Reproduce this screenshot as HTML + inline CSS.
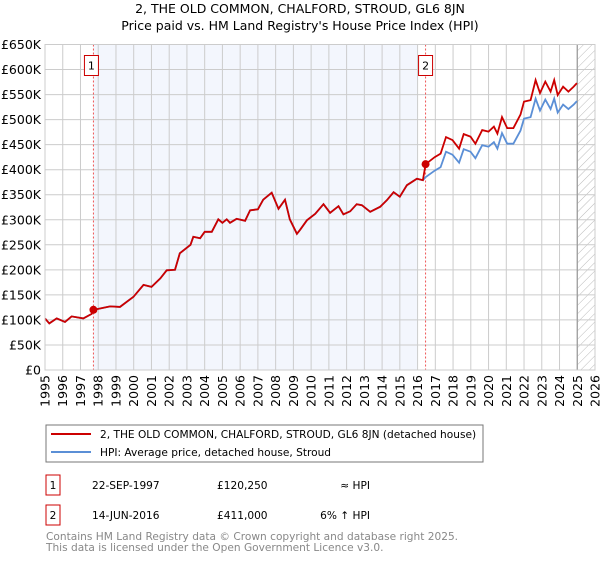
<!DOCTYPE html>
<html><head><meta charset="utf-8"><style>
body{margin:0;background:#fff;font-family:"Liberation Sans","DejaVu Sans",sans-serif;}
</style></head><body>
<svg id="c" width="600" height="560" xmlns="http://www.w3.org/2000/svg" font-family="DejaVu Sans, Liberation Sans, sans-serif">
<text x="300" y="13" text-anchor="middle" font-size="12.5">2, THE OLD COMMON, CHALFORD, STROUD, GL6 8JN</text>
<text x="300" y="30" text-anchor="middle" font-size="12.5">Price paid vs. HM Land Registry's House Price Index (HPI)</text>
<defs><pattern id="hatch" width="6" height="6" patternUnits="userSpaceOnUse" patternTransform="rotate(45)"><line x1="0" y1="0" x2="0" y2="6" stroke="#bbb" stroke-width="1"/></pattern></defs>
<g id="plot"></g>
<g>
<rect x="46" y="425" width="437" height="37" fill="#fff" stroke="#777"/>
<line x1="51" y1="434" x2="91" y2="434" stroke="#cc0000" stroke-width="2"/>
<text x="100" y="438" font-size="10.6">2, THE OLD COMMON, CHALFORD, STROUD, GL6 8JN (detached house)</text>
<line x1="51" y1="452" x2="91" y2="452" stroke="#5b8fd6" stroke-width="2"/>
<text x="100" y="456" font-size="10.6">HPI: Average price, detached house, Stroud</text>
</g>
<g font-size="10.6">
<rect x="46" y="475" width="14" height="20" fill="#fff" stroke="#cc0000"/>
<text x="53" y="489" text-anchor="middle">1</text>
<text x="92" y="489">22-SEP-1997</text>
<text x="217" y="489">£120,250</text>
<text x="370" y="489" text-anchor="end">≈ HPI</text>
<rect x="46" y="505" width="14" height="20" fill="#fff" stroke="#cc0000"/>
<text x="53" y="519" text-anchor="middle">2</text>
<text x="92" y="519">14-JUN-2016</text>
<text x="217" y="519">£411,000</text>
<text x="370" y="519" text-anchor="end">6% ↑ HPI</text>
</g>
<text x="46" y="540" font-size="10.6" fill="#888">Contains HM Land Registry data © Crown copyright and database right 2025.</text>
<text x="46" y="551" font-size="10.6" fill="#888">This data is licensed under the Open Government Licence v3.0.</text>
</svg>
<script>
const years=[1995.0,1995.24,1995.66,1996.13,1996.5,1997.16,1997.63,1997.73,1998.67,1999.23,1999.98,2000.55,2001.0,2001.5,2001.86,2002.33,2002.6,2003.2,2003.36,2003.74,2004.0,2004.4,2004.77,2005.0,2005.24,2005.43,2005.8,2006.28,2006.56,2007.0,2007.3,2007.78,2008.16,2008.53,2008.8,2009.2,2009.38,2009.76,2010.23,2010.7,2011.07,2011.54,2011.82,2012.2,2012.57,2012.86,2013.33,2013.9,2014.27,2014.65,2015.0,2015.4,2015.96,2016.3,2016.45,2016.96,2017.3,2017.6,2017.97,2018.34,2018.6,2018.98,2019.26,2019.64,2020.0,2020.3,2020.5,2020.76,2021.05,2021.4,2021.8,2022.0,2022.37,2022.65,2022.9,2023.2,2023.5,2023.7,2023.9,2024.2,2024.5,2024.8,2024.98];
const price=[103,93,103,96,107,103,112,120,127,126,146,170,166,183,199,200,233,250,266,263,276,276,301,294,301,294,302,298,319,321,340,354,322,340,301,272,280,299,312,331,314,327,311,317,331,329,316,326,339,355,346,369,382,379,411,425,432,465,459,442,471,466,452,479,476,486,472,505,483,483,510,536,539,579,553,576,556,579,549,566,556,566,573];
const hpi=[103,93,103,96,107,103,112,120,127,126,146,170,166,183,199,200,233,250,266,263,276,276,301,294,301,294,302,298,319,321,340,354,322,340,301,272,280,299,312,331,314,327,311,317,331,329,316,326,339,355,346,369,382,379,385,398,405,436,430,414,441,436,423,449,446,455,442,473,452,452,478,502,505,542,518,540,521,542,514,530,521,530,537];
const yTicks=[0,50,100,150,200,250,300,350,400,450,500,550,600,650];
const xTicks=[1995,1996,1997,1998,1999,2000,2001,2002,2003,2004,2005,2006,2007,2008,2009,2010,2011,2012,2013,2014,2015,2016,2017,2018,2019,2020,2021,2022,2023,2024,2025,2026];
const saleYears=[1997.73,2016.45];
const salePrices=[120.25,411];
const saleLabels=["1","2"];
const L=45,R=595,T=44.5,B=370;
const X=y=>L+(y-1995)*(R-L)/31;
const Y=v=>B-v*(B-T)/650;
const NS="http://www.w3.org/2000/svg";
const g=document.getElementById('plot');
function mk(t,a){const e=document.createElementNS(NS,t);for(const k in a)e.setAttribute(k,a[k]);g.appendChild(e);return e;}
let e=mk('rect',{x:X(saleYears[0]),y:T,width:X(2016)-X(saleYears[0]),height:B-T,fill:'#f3f6fd'});


e=mk('rect',{x:X(2025),y:T,width:R-X(2025),height:B-T,fill:'url(#hatch)'});


yTicks.forEach(v=>{
 let l=mk('line',{x1:L,x2:R,y1:Y(v),y2:Y(v),stroke:'#ccc','stroke-width':1});
 
 
 let t=mk('text',{x:L-4,y:Y(v)+4.5,'text-anchor':'end','font-size':12.5});
 t.textContent=v===0?'£0':'£'+v+'K';
 
 
});
xTicks.forEach(yr=>{
 let l=mk('line',{x1:X(yr),x2:X(yr),y1:T,y2:B,stroke:'#ccc','stroke-width':1});
 
 
 let t=mk('text',{x:0,y:0,'text-anchor':'end','font-size':12.5,transform:`translate(${X(yr)+4.5},${B+5}) rotate(-90)`});
 t.textContent=yr;
 
 
});
e=mk('line',{x1:X(2025),x2:X(2025),y1:T,y2:B,stroke:'#999','stroke-width':1.2});


saleYears.forEach((sy,i)=>{
 let l=mk('line',{x1:X(sy),x2:X(sy),y1:T,y2:B,stroke:'#e55','stroke-width':1,'stroke-dasharray':'2,2'});
 
 
 let r=mk('rect',{x:X(sy)-7-(i?0:2),y:T+11,width:14,height:20,fill:'#fff',stroke:'#cc0000'});
 
 
 let t=mk('text',{x:X(sy)-(i?0:2),y:T+25,'text-anchor':'middle','font-size':11});
 t.textContent=saleLabels[i];
 
 
});
function path(vals){return vals.map((v,i)=>(i?'L':'M')+X(years[i]).toFixed(1)+','+Y(v).toFixed(1)).join('');}
e=mk('path',{d:path(hpi),fill:'none',stroke:'#5b8fd6','stroke-width':1.8});


e=mk('path',{d:path(price),fill:'none',stroke:'#cc0000','stroke-width':1.8});


saleYears.forEach((sy,i)=>{
 let c=mk('circle',{cx:X(sy),cy:Y(salePrices[i]),r:4,fill:'#cc0000'});
 
 
});
e=mk('rect',{x:L,y:T,width:R-L,height:B-T,fill:'none',stroke:'#ccc'});


</script>
</body></html>
